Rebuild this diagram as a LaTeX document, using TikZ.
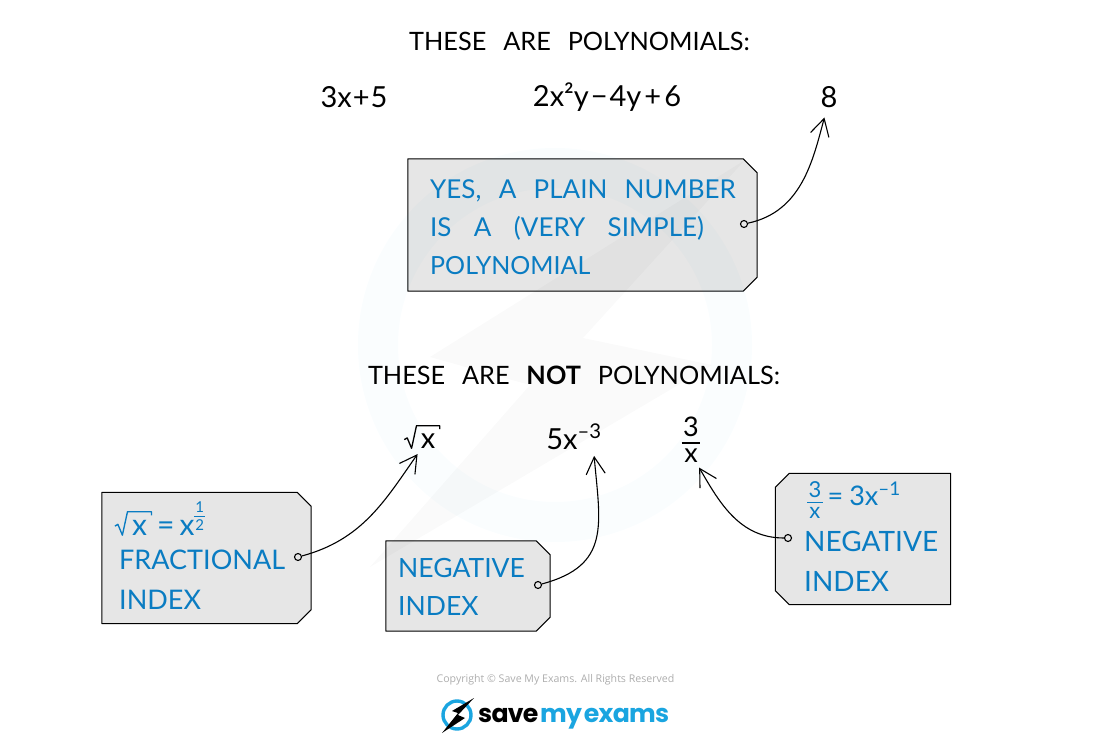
\documentclass[tikz,border=0pt]{standalone}
\usepackage{fix-cm}
\usepackage{amsmath}
\usepackage{fontspec}
\setmainfont[WordSpace=2.6]{Lato}
\newfontfamily\smallfont{Open Sans}
\newfontfamily\brandfont[LetterSpace=-3,WordSpace=0.4]{Poppins}
\usepackage{tikz}
\usetikzlibrary{arrows.meta}

\definecolor{tagfill}{HTML}{E6E6E6}
\definecolor{tagblue}{HTML}{0A7CC2}
\definecolor{brandblue}{HTML}{1AA5E0}

\tikzset{
    tagbox/.style={inner sep=0pt},
    tagedge/.style={draw=black,line width=1pt,fill=tagfill,line join=round},
    taglabel/.style={text=tagblue,align=left,anchor=west,inner sep=0pt},
    formula/.style={font=\fontsize{29}{32}\selectfont,inner sep=0pt},
    heading/.style={font=\fontsize{25.3}{30}\selectfont,inner sep=0pt},
    hole/.style={draw,circle,line width=1.1pt,fill=tagfill,minimum size=7pt,inner sep=0pt},
    pointer/.style={line width=1.1pt,-{Straight Barb[length=17pt,width=19pt,line width=1.1pt]}}
}

% outlines with two corners cut off
\newcommand{\cutright}[1]{\path[tagedge] (#1.north west) -- ([xshift=-14pt]#1.north east) -- ([yshift=-14pt]#1.north east)
    -- ([yshift=14pt]#1.south east) -- ([xshift=-14pt]#1.south east) -- (#1.south west) -- cycle;}
\newcommand{\cutleft}[1]{\path[tagedge] (#1.north east) -- ([xshift=14pt]#1.north west) -- ([yshift=-14pt]#1.north west)
    -- ([yshift=14pt]#1.south west) -- ([xshift=14pt]#1.south west) -- (#1.south east) -- cycle;}
% hand-drawn looking root of x and upright fraction
\newcommand{\rootx}{\tikz[baseline=0pt,x=1em,y=1em,line width=.045em,line join=round]{%
    \draw (0,.3) -- (.1,.36) -- (.25,0) -- (.42,.78) -- (1.22,.78) -- (1.22,.66);
    \node[inner sep=0pt,anchor=base] at (.82,0) {x};}}
\newcommand{\upfrac}[2]{$\vcenter{\offinterlineskip\halign{\hfil##\hfil\cr #1\cr\noalign{\kern.2em}\rule{.7em}{.05em}\cr\noalign{\kern.2em}#2\cr}}$}

\begin{document}
\begin{tikzpicture}[x=1pt,y=-1pt]
    \useasboundingbox (0,0) rectangle (1100,746);
    %% Tags
    \node[tagbox,minimum width=349pt,minimum height=132pt] (plaintag) at (582.5,225) {};
    \node[tagbox,minimum width=209pt,minimum height=131pt] (roottag) at (206.5,558) {};
    \node[tagbox,minimum width=164pt,minimum height=90pt] (powertag) at (468,586) {};
    \node[tagbox,minimum width=175pt,minimum height=131pt] (fractag) at (863,539) {};
    \cutright{plaintag}
    \cutright{roottag}
    \cutright{powertag}
    \cutleft{fractag}
    %% Faint ring and bolt behind the lettering
    \draw[brandblue,line width=40pt,opacity=.022] (555,345) circle (177pt);
    \fill[black,opacity=.018] (745,160) -- (430,357) -- (530,385) -- (370,567) -- (712,365) -- (583,338) -- cycle;
    %% Headings
    \node[heading] (yeshead) at (579.5,41) {THESE ARE POLYNOMIALS:};
    \node[heading] (nohead) at (574,375) {THESE ARE \textbf{NOT} POLYNOMIALS:};
    %% Formulas
    \node[formula] (linear) at (354,97) {3x\kern1pt+\kern1pt5};
    \node[formula] (mixed) at (607,97) {2x²y\kern2pt−\kern2pt4y\kern3pt+\kern3pt6};
    \node[formula] (eight) at (829,97) {8};
    \node[formula] (root) at (422,437) {\rootx};
    \node[formula] (power) at (574,437) {5x\textsuperscript{–3}};
    \node[formula,font=\fontsize{27}{32}\selectfont] (frac) at (691,440) {\upfrac{3}{x}};
    %% Tag texts
    \node[taglabel,font=\fontsize{26}{38}\selectfont] (plaintext) at (430,227) {YES, A PLAIN NUMBER\\IS\hspace*{5pt} A\hspace*{5pt} (VERY\hspace*{5pt} SIMPLE)\\{\fontsize{25}{38}\selectfont POLYNOMIAL}};
    \node[taglabel,font=\fontsize{27}{40}\selectfont] (roottext) at (119,580) {FRACTIONAL\\INDEX};
    \node[taglabel,font=\fontsize{30}{32}\selectfont] (rootsum) at (114,519) {\rootx\kern5pt=\kern5pt x\raisebox{15pt}{\fontsize{15}{16}\selectfont\upfrac{1}{2}}};
    \node[taglabel,font=\fontsize{26.5}{38}\selectfont] (powertext) at (398,587) {NEGATIVE\\INDEX};
    \node[taglabel,font=\fontsize{28}{40}\selectfont] (fractext) at (804,561) {NEGATIVE\\INDEX};
    \node[taglabel,font=\fontsize{22}{30}\selectfont] (fracsum) at (807,500) {\upfrac{3}{x}\kern5pt{\fontsize{27}{30}\selectfont =\kern6pt 3x\textsuperscript{–1}}};
    %% Holes
    \node[hole] (plainhole) at (744,224) {};
    \node[hole] (roothole) at (298,557) {};
    \node[hole] (powerhole) at (538,585) {};
    \node[hole] (frachole) at (788,538) {};
    %% Arrows
    \draw[pointer,shorten >=10pt] (plainhole) to[out=12,in=-105] ([xshift=-2pt]eight.south);
    \draw[pointer,shorten >=6pt] (roothole) to[out=15,in=-125] ([xshift=-1pt]root.south);
    \draw[pointer,shorten >=3pt] (powerhole) to[out=15,in=-85,looseness=1.3] ([xshift=-8pt,yshift=-3pt]power.south east);
    \draw[pointer,shorten >=3pt] (frachole) to[out=180,in=-60] ([xshift=-3pt,yshift=-2pt]frac.south east);
    %% Copyright line and brand
    \node[inner sep=0pt,text=black!32,font=\fontsize{10.6}{12}\smallfont] (copyline) at (555.5,680) {Copyright © Save My Exams. All Rights Reserved};
    \draw[brandblue,line width=3.4pt] (457,715) circle (14pt);
    \fill (474,698) -- (452,711) -- (458,713) -- (442,733) -- (465,718) -- (458,715) -- cycle;
    \node[inner sep=0pt,anchor=west,text=brandblue,font=\fontsize{25.2}{30}\brandfont\bfseries] (brand) at (478,719) {{\color{black}save} my exams};
\end{tikzpicture}
\end{document}
